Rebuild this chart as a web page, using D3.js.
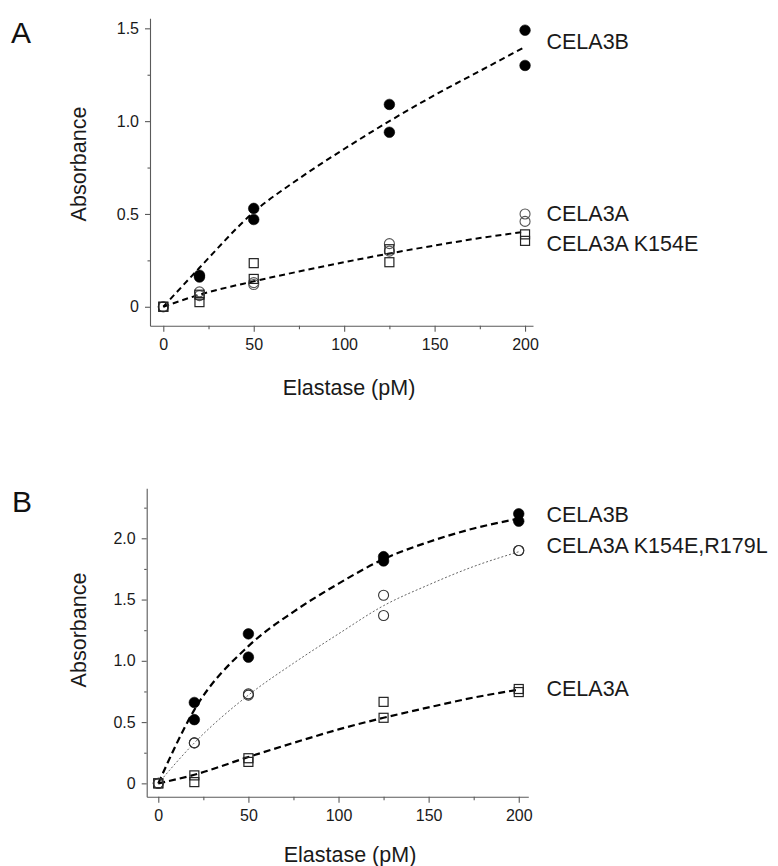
<!DOCTYPE html>
<html>
<head>
<meta charset="utf-8">
<script src="https://cdn.jsdelivr.net/npm/d3@7"></script>
<style>
  html, body { margin: 0; padding: 0; background: #fff; }
  svg { display: block; font-family: "Liberation Sans", Arial, sans-serif; }
</style>
</head>
<body>
<svg id="fig" width="778" height="866"></svg>
<script>
// Elastase concentrations (pM) used for every replicate pair
const elastaseDoses = [0, 0, 20, 20, 50, 50, 125, 125, 200, 200];

// Panel A replicate absorbances (null = no marker drawn)
const aCela3b = [null, null, 0.16, 0.17, 0.53, 0.47, 1.09, 0.94, 1.49, 1.30];
const aCela3a = [0, 0, 0.08, 0.06, 0.12, 0.13, 0.34, 0.30, 0.50, 0.46];
const aK154e  = [0, 0, 0.065, 0.025, 0.235, 0.15, 0.24, 0.31, 0.39, 0.355];

// Panel B replicate absorbances
const bCela3b = [null, null, 0.66, 0.52, 1.22, 1.03, 1.85, 1.815, 2.20, 2.14];
const bDouble = [0, 0, 0.33, 0.33, 0.73, 0.72, 1.535, 1.37, 1.90, 1.90];
const bCela3a = [0, 0, 0.065, 0.01, 0.205, 0.175, 0.665, 0.535, 0.77, 0.745];

// Fitted curves, sampled along the elastase axis
const fitDoses   = [0, 20, 50, 75, 100, 125, 150, 175, 200];
const aFitCela3b = [0, 0.21, 0.51, 0.69, 0.85, 1.00, 1.14, 1.27, 1.40];
const aFitCela3a = [0, 0.065, 0.137, 0.19, 0.24, 0.287, 0.33, 0.37, 0.404];
const bFitCela3b = [0, 0.60, 1.12, 1.40, 1.63, 1.83, 1.97, 2.08, 2.16];
const bFitDouble = [0, 0.33, 0.72, 0.98, 1.22, 1.45, 1.62, 1.77, 1.89];
const bFitCela3a = [0, 0.07, 0.215, 0.33, 0.44, 0.535, 0.62, 0.70, 0.765];

// Axis ticks
const xTicks = [0, 50, 100, 150, 200];
const xMinorTicks = [25, 75, 125, 175];
const aYTicks = [0, 0.5, 1.0, 1.5];
const aYTickLabels = ["0", "0.5", "1.0", "1.5"];
const aYMinorTicks = [0.25, 0.75, 1.25];
const bYTicks = [0, 0.5, 1.0, 1.5, 2.0];
const bYTickLabels = ["0", "0.5", "1.0", "1.5", "2.0"];
const bYMinorTicks = [0.25, 0.75, 1.25, 1.75, 2.25];

const svg = d3.select("#fig");
const AXIS = "#5a5a5a";
const INK = "#1a1a1a";
const LABEL_SIZE = 21.5;

function pairs(xs, ys) {
  return xs.map((x, i) => [x, ys[i]]).filter(d => d[1] !== null);
}

function panel(cfg) {
  const x = d3.scaleLinear().domain(cfg.xDomain).range(cfg.xRange);
  const y = d3.scaleLinear().domain(cfg.yDomain).range(cfg.yRange);
  const g = svg.append("g");
  const x0 = cfg.xRange[0], yBase = cfg.yRange[0];

  // y axis: major labelled ticks and short minor ticks
  g.append("g").attr("transform", `translate(${x0},0)`)
    .call(d3.axisLeft(y).tickValues(cfg.yTicks).tickSize(5).tickPadding(6)
      .tickSizeOuter(0).tickFormat((d, i) => cfg.yTickLabels[i]));
  g.append("g").attr("transform", `translate(${x0},0)`)
    .call(d3.axisLeft(y).tickValues(cfg.yMinor).tickSize(2.5).tickFormat(""))
    .select(".domain").remove();

  g.append("g").attr("transform", `translate(0,${yBase})`)
    .call(d3.axisBottom(x).tickValues(xTicks).tickSize(6).tickPadding(7)
      .tickSizeOuter(0).tickFormat(d3.format("d")));
  g.append("g").attr("transform", `translate(0,${yBase})`)
    .call(d3.axisBottom(x).tickValues(xMinorTicks).tickSize(3.5).tickFormat(""))
    .select(".domain").remove();

  g.selectAll(".domain, .tick line").attr("stroke", AXIS).attr("stroke-width", 1.1);
  g.selectAll(".tick text").attr("fill", INK).attr("font-size", 16)
    .attr("font-family", "Liberation Sans, Arial, sans-serif");

  // titles
  g.append("text").attr("x", cfg.xTitle[0]).attr("y", cfg.xTitle[1])
    .attr("text-anchor", "middle").attr("font-size", LABEL_SIZE).attr("fill", INK)
    .text("Elastase (pM)");
  g.append("text").attr("transform", `translate(${cfg.yTitle[0]},${cfg.yTitle[1]}) rotate(-90)`)
    .attr("text-anchor", "middle").attr("font-size", LABEL_SIZE).attr("fill", INK)
    .text("Absorbance");
  g.append("text").attr("x", cfg.letter[0]).attr("y", cfg.letter[1])
    .attr("font-size", 30).attr("fill", "#111").text(cfg.name);

  // fitted curves
  const line = d3.line().x(d => x(d[0])).y(d => y(d[1])).curve(d3.curveMonotoneX);
  cfg.fits.forEach(f => {
    g.append("path").datum(pairs(fitDoses, f.values))
      .attr("d", line).attr("fill", "none")
      .attr("stroke", f.color).attr("stroke-width", f.width)
      .attr("stroke-dasharray", f.dash);
  });

  // replicate markers
  cfg.series.forEach(s => {
    const pts = pairs(elastaseDoses, s.values);
    const m = g.append("g");
    if (s.shape === "square") {
      m.selectAll("rect").data(pts).join("rect")
        .attr("x", d => x(d[0]) - 4.5).attr("y", d => y(d[1]) - 4.5)
        .attr("width", 9).attr("height", 9)
        .attr("fill", "none").attr("stroke", "#222").attr("stroke-width", 1.2);
    } else {
      m.selectAll("circle").data(pts).join("circle")
        .attr("cx", d => x(d[0])).attr("cy", d => y(d[1]))
        .attr("r", s.filled ? 5.3 : 5)
        .attr("fill", s.filled ? "#000" : "none")
        .attr("stroke", s.filled ? "#000" : s.stroke)
        .attr("stroke-width", s.filled ? 0.6 : 1.1);
    }
  });

  // series labels at the right
  cfg.labels.forEach(l => {
    g.append("text").attr("x", 546.5).attr("y", l[1])
      .attr("font-size", LABEL_SIZE).attr("fill", INK).text(l[0]);
  });
}

panel({
  name: "A",
  letter: [11, 43],
  xDomain: [-7.35, 204.4], xRange: [150, 533],
  yDomain: [-0.102, 1.554], yRange: [325.7, 18.3],
  yTicks: aYTicks, yTickLabels: aYTickLabels, yMinor: aYMinorTicks,
  xTitle: [349, 395], yTitle: [86, 164],
  fits: [
    { values: aFitCela3b, color: "#000", width: 2, dash: "6,4" },
    { values: aFitCela3a, color: "#000", width: 2, dash: "6,4" }
  ],
  series: [
    { values: aCela3b, filled: true },
    { values: aCela3a, filled: false, stroke: "#555" },
    { values: aK154e, shape: "square" }
  ],
  labels: [["CELA3B", 49.3], ["CELA3A", 220.5], ["CELA3A K154E", 250.5]]
});

panel({
  name: "B",
  letter: [12, 512],
  xDomain: [-6.43, 205.3], xRange: [146.7, 528.3],
  yDomain: [-0.109, 2.408], yRange: [796.7, 488.3],
  yTicks: bYTicks, yTickLabels: bYTickLabels, yMinor: bYMinorTicks,
  xTitle: [350, 861.5], yTitle: [86, 630],
  fits: [
    { values: bFitCela3b, color: "#000", width: 2.2, dash: "7,4" },
    { values: bFitDouble, color: "#666", width: 1, dash: "2,2" },
    { values: bFitCela3a, color: "#000", width: 2.2, dash: "7,4" }
  ],
  series: [
    { values: bCela3a, shape: "square" },
    { values: bDouble, filled: false, stroke: "#333" },
    { values: bCela3b, filled: true }
  ],
  labels: [["CELA3B", 522], ["CELA3A K154E,R179L", 552.5], ["CELA3A", 696]]
});
</script>
</body>
</html>
